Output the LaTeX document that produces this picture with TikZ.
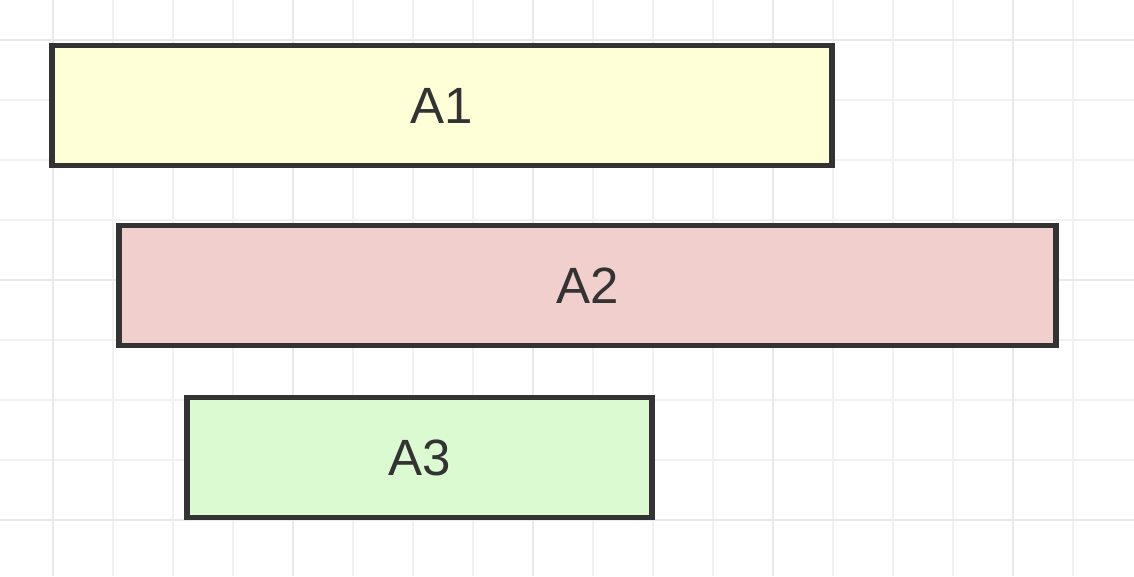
\documentclass[tikz,border=0pt]{standalone}
\usepackage{fontspec}
\setmainfont{Liberation Sans}
\definecolor{gridminor}{HTML}{F1F1F1}
\definecolor{gridmajor}{HTML}{E8E8E8}
\definecolor{edge}{HTML}{333333}
\definecolor{txt}{HTML}{333333}
\definecolor{fillA}{HTML}{FEFED7}
\definecolor{fillB}{HTML}{F0CFCD}
\definecolor{fillC}{HTML}{DCFAD2}
\tikzset{
  bar/.style={draw=edge, line width=5.5pt, rectangle, inner sep=0pt,
    minimum height=120pt, text=txt,
    font=\fontsize{51}{60}\selectfont},
  minorline/.style={draw=gridminor, line width=2pt},
  majorline/.style={draw=gridmajor, line width=2pt}
}
\begin{document}
\begin{tikzpicture}[x=1pt, y=-1pt]
\useasboundingbox (0,0) rectangle (1134,576);
\fill[white] (0,0) rectangle (1134,576);
% grid
\foreach \i in {0,...,17} {
  \pgfmathsetmacro{\gx}{53+60*\i}
  \draw[minorline] (\gx,0) -- (\gx,576);
}
\foreach \i in {0,...,8} {
  \pgfmathsetmacro{\gy}{40+60*\i}
  \draw[minorline] (0,\gy) -- (1134,\gy);
}
\foreach \gx in {53,293,533,773,1013} {
  \draw[majorline] (\gx,0) -- (\gx,576);
}
\foreach \gy in {40,280,520} {
  \draw[majorline] (0,\gy) -- (1134,\gy);
}
% bars
\node[bar, fill=fillA, minimum width=780pt] (a1) at (442,105.5) {\raisebox{-2pt}{A1}};
\node[bar, fill=fillB, minimum width=937pt] (a2) at (587.5,285.5) {\raisebox{-2pt}{A2}};
\node[bar, fill=fillC, minimum width=465pt] (a3) at (419.5,457.5) {\raisebox{-2pt}{A3}};
\end{tikzpicture}
\end{document}
